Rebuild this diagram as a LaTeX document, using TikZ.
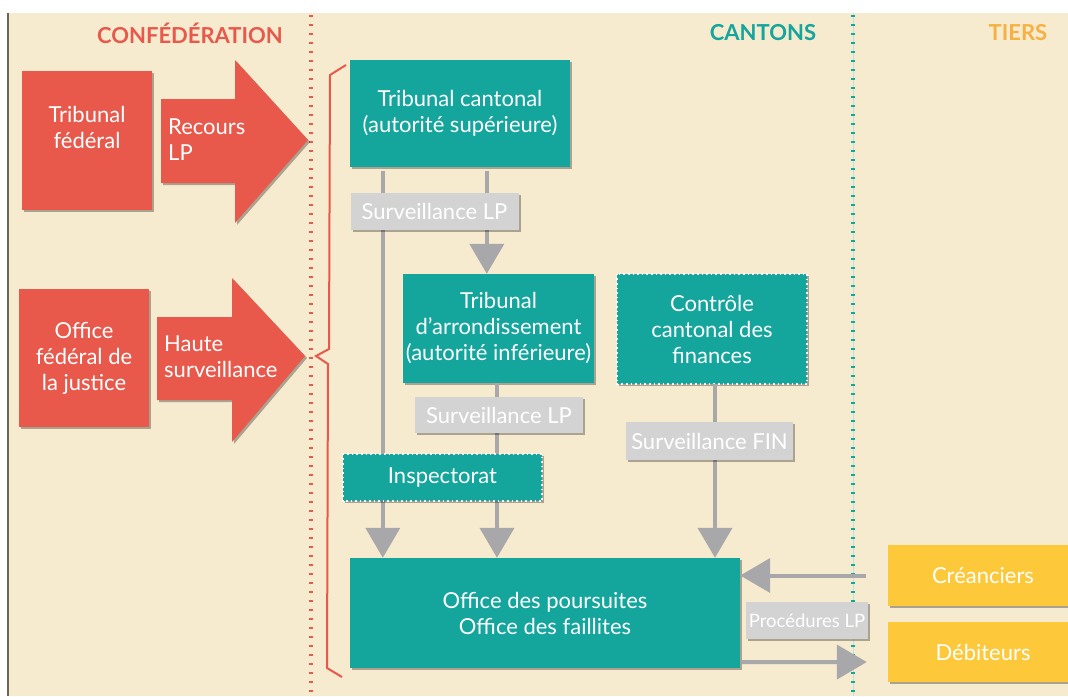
\documentclass[tikz,border=0pt]{standalone}
\usepackage{fontspec}
\setmainfont{Lato}
\usetikzlibrary{arrows.meta,shadows,calc}
\definecolor{bgc}{HTML}{F6EACF}
\definecolor{redc}{HTML}{E8594B}
\definecolor{tealc}{HTML}{14A59D}
\definecolor{grayb}{HTML}{D3D3D3}
\definecolor{grayl}{HTML}{A8A8AA}
\definecolor{yelc}{HTML}{FDC93B}
\definecolor{tiersc}{HTML}{F6B143}
\definecolor{edgec}{HTML}{6B6459}
\tikzset{
  shad/.style={drop shadow={shadow xshift=2pt,shadow yshift=-2pt,opacity=0.3,fill=black}},
  boxbase/.style={inner sep=0pt, align=center, text=white, font=\fontsize{22}{26}\selectfont, shad},
  tealbox/.style={boxbase, fill=tealc},
  redbox/.style={boxbase, fill=redc},
  yelbox/.style={boxbase, fill=yelc},
  graybox/.style={boxbase, fill=grayb},
  dotborder/.style={draw=white, line width=1.6pt, dash pattern=on 1.6pt off 3pt},
  conn/.style={draw=grayl, line width=4pt, -{Triangle[width=34pt,length=30pt]}},
  header/.style={font=\fontsize{22}{26}\selectfont\bfseries},
  arrowtext/.style={text=white, align=left, anchor=west, font=\fontsize{22}{26}\selectfont, inner sep=0pt},
}
\begin{document}
\begin{tikzpicture}[x=1pt,y=-1pt]
\useasboundingbox (0,0) rectangle (1068,696);
\fill[white] (0,0) rectangle (1068,696);
\fill[bgc] (7,13) rectangle (1068,696);
\draw[edgec, line width=2pt] (7.5,13) -- (7.5,696);
% separators
\draw[redc, line width=3.2pt, dash pattern=on 2pt off 7pt] (311,15) -- (311,696);
\draw[tealc!30, line width=0.6pt] (853,13) -- (853,696);
\draw[tealc, line width=3.2pt, dash pattern=on 2pt off 7pt] (853,15) -- (853,696);
% headers
\node[header, text=redc] (hconf) at (190,33) {CONFÉDÉRATION};
\node[header, text=tealc] (hcant) at (763,33) {CANTONS};
\node[header, text=tiersc] (htiers) at (1018,33) {TIERS};
% federal side
\node[redbox, minimum width=130pt, minimum height=139pt] (tf) at (87,140.5) {Tribunal\\fédéral\\\mbox{}};
\node[redbox, minimum width=130pt, minimum height=138pt] (ofj) at (84,358) {Office\\fédéral de\\la justice};
\fill[redc, shad] (161,99) -- (235,99) -- (235,60) -- (308,140) -- (235,223) -- (235,183) -- (161,183) -- cycle;
\node[arrowtext] (rlp) at (168,140) {Recours\\LP};
\fill[redc, shad] (157,317) -- (232,317) -- (232,278) -- (305,356) -- (232,442) -- (232,400) -- (157,400) -- cycle;
\node[arrowtext] (hs) at (164,357) {Haute\\surveillance};
% brace
\draw[redc, line width=2pt] (346,65) -- (330,75) -- (329,349) -- (316,356) -- (328,364) -- (327,668) -- (342,677);
% cantonal boxes
\node[tealbox, minimum width=220pt, minimum height=107pt] (tc) at (460,113.5) {Tribunal cantonal\\(autorité supérieure)};
\node[tealbox, minimum width=191pt, minimum height=109pt] (ta) at (498.5,328.5) {Tribunal\\d’arrondissement\\(autorité inférieure)};
\node[tealbox, minimum width=190pt, minimum height=110pt] (cc) at (712,329) {Contrôle\\cantonal des\\finances};
\node[tealbox, minimum width=390pt, minimum height=110pt] (op) at (545,613) {Office des poursuites\\Office des faillites};
\draw[dotborder] (cc.north west) rectangle (cc.south east);
% third parties
\node[yelbox, minimum width=190pt, minimum height=61pt] (cr) at (983,575.5) {Créanciers};
\node[yelbox, minimum width=190pt, minimum height=60pt] (db) at (983,652) {Débiteurs};
% connectors
\draw[conn, shorten <=4pt] ([xshift=33pt]tc.south west) -- ([xshift=33pt]op.north west);
\draw[conn, shorten <=4pt] ([xshift=137pt]tc.south west) -- ([xshift=137pt]tc.south west |- ta.north);
\draw[conn] ([xshift=-1.5pt]ta.south) -- ([xshift=-1.5pt]ta.south |- op.north);
\draw[conn] ([xshift=3pt]cc.south) -- ([xshift=3pt]cc.south |- op.north);
\draw[conn] ([xshift=-22pt]cr.west) -- (cr.west -| op.east);
\draw[conn] ($(op.south east)+(2,-6)$) -- ($(db.west)+(-21,10)$);
% labels on connectors
\node[graybox, minimum width=168pt, minimum height=37pt] (s1) at (434.5,211.5) {Surveillance LP};
\node[graybox, minimum width=168pt, minimum height=36pt] (s2) at (499,415) {Surveillance LP};
\node[graybox, minimum width=167pt, minimum height=38pt] (sf) at (709.5,441) {Surveillance FIN};
\node[graybox, minimum width=122pt, minimum height=37pt, font=\fontsize{18.5}{22}\selectfont] (pl) at (807,620.5) {Procédures LP};
\node[tealbox, minimum width=199pt, minimum height=47pt] (insp) at (442.5,477.5) {Inspectorat};
\draw[dotborder] (insp.north west) rectangle (insp.south east);
\end{tikzpicture}
\end{document}
